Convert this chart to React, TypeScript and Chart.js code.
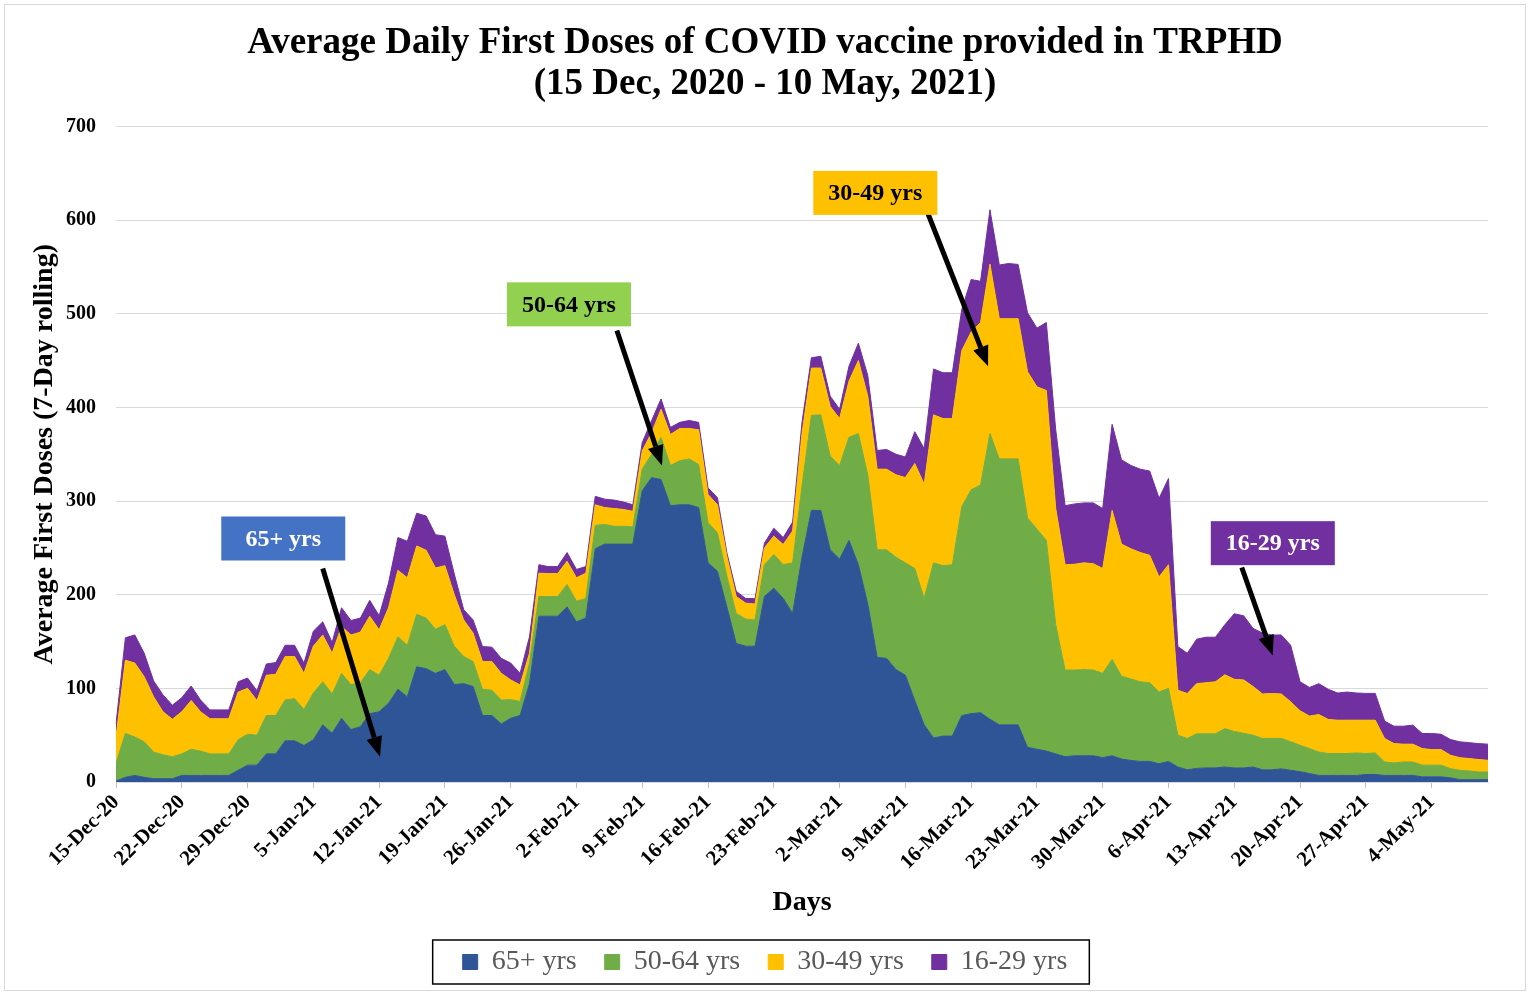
import React, { useEffect, useRef } from "react";
import { Chart, registerables } from "chart.js";

Chart.register(...registerables);

// ---------- categories ----------
const MONTHS = ["Jan", "Feb", "Mar", "Apr", "May", "Jun", "Jul", "Aug", "Sep", "Oct", "Nov", "Dec"];
const DAY_COUNT = 147; // 15-Dec-20 .. 10-May-21
const days: string[] = Array.from({ length: DAY_COUNT }, (_, i) => {
  const dt = new Date(Date.UTC(2020, 11, 15 + i));
  return `${dt.getUTCDate()}-${MONTHS[dt.getUTCMonth()]}-${String(dt.getUTCFullYear()).slice(2)}`;
});
const TICK_EVERY = 7;

// ---------- series (7-day rolling average of first doses) ----------
const age65Plus = [
  1, 5, 7, 5, 3.5, 3.5, 3.5, 7, 7, 7,
  7, 7, 7, 12.5, 18, 18, 30, 30, 44, 44,
  39, 45, 61, 52, 68, 56, 59, 73, 75, 84,
  99, 91, 123, 121, 116, 120, 104, 105, 102, 71,
  71, 62, 68, 71, 105, 177, 177, 177, 187, 171,
  175, 249, 254, 254, 254, 254, 311, 325, 323, 295,
  296, 296, 293, 234, 225, 187, 148, 145, 145, 198,
  207, 196, 180, 240, 290, 290, 248, 238, 258, 232,
  190, 133, 132, 120, 114, 87, 61, 47, 49, 49,
  71, 73, 74, 67, 61, 61, 61, 37, 35, 33,
  30, 27, 28, 28, 28, 26, 28, 24.5, 23, 22,
  22, 19.5, 22, 16, 13, 14.5, 15, 15, 16, 15,
  15, 16, 13, 13, 14, 12.5, 11, 9, 7, 7,
  7, 7, 7, 8, 8, 7, 7, 7, 7, 5.5,
  5.5, 5.5, 4.5, 2.5, 2.5, 2.5, 2.5,
];
const age50to64 = [
  19, 47, 41, 38, 28.5, 25.5, 23.5, 23, 28, 26,
  23, 23, 23, 32.5, 33, 32, 41, 41, 43.5, 45,
  38.5, 50, 46, 42, 48, 48, 47, 47, 39, 48,
  56, 55, 56, 54, 47, 48, 41, 29, 26.6, 28,
  27, 25.5, 20, 15, 22, 21, 21, 21, 24, 22,
  21, 25, 21, 19, 19, 18.5, 23, 25, 45, 43,
  47, 49, 46, 43, 41, 33, 32, 29, 28, 34,
  36, 36, 54, 76, 101.5, 102, 100, 100, 110, 140,
  138, 115, 116, 120, 120, 141, 135, 187, 182, 183,
  223, 239, 243, 305, 284, 284, 284, 245, 235, 225,
  138, 92.5, 91.5, 92, 91.5, 90, 103, 88.5, 87, 85,
  84, 76.5, 78, 34, 33.5, 37, 36.5, 36.5, 41, 39,
  37, 34, 33.5, 33.5, 32.5, 30.5, 28.3, 26.7, 25, 23.4,
  23.4, 23.4, 24, 22.4, 23, 14.4, 13.4, 14.4, 14.4, 12.5,
  12.5, 12.5, 9.8, 10, 9.3, 8.2, 8.2,
];
const age30to49 = [
  28, 78, 79, 69.5, 59, 46, 40, 45, 52, 42,
  37.5, 37.5, 37.5, 51, 49, 37, 43, 44, 46.5, 45,
  38.5, 50, 50, 43.5, 50, 53, 54, 57, 48.5, 54,
  71, 72, 73, 72.5, 65.5, 63, 55, 39, 30.4, 29.6,
  30.6, 28.5, 21, 17.6, 10.5, 25, 24.5, 24.5, 24.7, 25,
  27, 22, 18, 19, 18, 16.5, 19.6, 23, 30, 33,
  34.5, 32.5, 37, 30, 30, 21, 18, 17, 17, 18,
  19.5, 21.6, 34, 56, 50.5, 50, 53, 50, 60, 78,
  84, 86, 86, 88, 91, 112, 122, 158, 157, 156,
  166.5, 168.5, 173.6, 181, 149.6, 149.6, 149.6, 156, 152, 160,
  124, 112.5, 113, 114, 113.5, 112, 159, 141, 139, 138,
  136, 123, 132, 48, 48, 53.5, 54.5, 55.5, 57.5, 55.6,
  57, 52, 47.5, 48, 47.5, 42.7, 36.7, 34.7, 40, 36.4,
  35.6, 35.6, 35, 35.6, 35, 25, 20.6, 19, 19, 17.7,
  16.6, 16.6, 14.3, 13.5, 13.2, 13.3, 12.5,
];
const age16to29 = [
  14, 24, 30, 25, 17, 18, 15, 15, 15.5, 12.5,
  9.5, 9.5, 9.5, 11, 11, 10.5, 12, 12.5, 12, 12,
  11, 16, 14, 11.5, 20, 15.5, 15, 17, 15, 26.5,
  35, 39, 35, 36.5, 35.5, 31.5, 22, 11, 14, 16,
  15.4, 16, 18, 12.4, 17.5, 9, 7.5, 7.5, 9.3, 9,
  7, 9, 9, 9, 8, 7, 8.9, 13, 11, 7.6,
  6.5, 8.5, 8, 7, 7.6, 4, 5.6, 5, 5.7, 5,
  8.5, 7.4, 9.5, 12, 11, 12.5, 11, 10, 16, 18.5,
  22, 20, 21, 22, 22, 34, 38, 49, 49, 49,
  44, 56, 44, 58, 57.4, 59, 58, 63, 62.6, 72.6,
  84, 63, 64.4, 64, 65, 64, 92, 90, 89, 89,
  90, 84, 92, 46.6, 43, 47.5, 48.6, 47.6, 53.5, 70,
  68.5, 62, 65, 62.4, 63, 60.3, 31, 30.6, 33, 32.2,
  29, 30, 29, 28.6, 28.6, 18.6, 18.6, 19.2, 20.3, 16.1,
  17.2, 16.4, 16.8, 16.9, 17, 17, 17.2,
];

const seriesNames = ["65+ yrs", "50-64 yrs", "30-49 yrs", "16-29 yrs"];
const seriesValues = [age65Plus, age50to64, age30to49, age16to29];
const seriesColors = ["#2F5597", "#70AD47", "#FFC000", "#7030A0"];

// y axis ticks
const Y_MIN = 0;
const Y_MAX = 700;
const Y_STEP = 100;

// ---------- callouts (placed in data space: [day index, doses]) ----------
const calloutText = ["65+ yrs", "50-64 yrs", "30-49 yrs", "16-29 yrs"];
const calloutFill = ["#4472C4", "#92D050", "#FFC000", "#7030A0"];
const calloutInk = ["#FFFFFF", "#000000", "#000000", "#FFFFFF"];
const calloutBoxAt = [[17.8, 260], [48.2, 510], [80.8, 629], [123.1, 255]];
const calloutTail = [[22.0, 228], [53.3, 482], [86.4, 607], [119.8, 229]];
const calloutHead = [[28.1, 27], [58.1, 338], [92.8, 444], [123.1, 135]];

const FONT = "'Liberation Serif', 'Times New Roman', serif";

const calloutPlugin = {
  id: "callouts",
  afterDatasetsDraw(chart: any) {
    const { ctx, scales } = chart;
    const xs = scales.x;
    const ys = scales.y;
    ctx.save();
    calloutText.forEach((text, k) => {
      const tx = xs.getPixelForValue(calloutTail[k][0]);
      const ty = ys.getPixelForValue(calloutTail[k][1]);
      const hx = xs.getPixelForValue(calloutHead[k][0]);
      const hy = ys.getPixelForValue(calloutHead[k][1]);
      const ang = Math.atan2(hy - ty, hx - tx);
      const headLen = 20;
      const headHalf = 8;
      const bx = hx - Math.cos(ang) * headLen;
      const byy = hy - Math.sin(ang) * headLen;
      ctx.strokeStyle = "#000";
      ctx.lineWidth = 5;
      ctx.lineCap = "butt";
      ctx.beginPath();
      ctx.moveTo(tx, ty);
      ctx.lineTo(bx, byy);
      ctx.stroke();
      ctx.fillStyle = "#000";
      ctx.beginPath();
      ctx.moveTo(hx, hy);
      ctx.lineTo(bx + Math.sin(ang) * headHalf, byy - Math.cos(ang) * headHalf);
      ctx.lineTo(bx - Math.sin(ang) * headHalf, byy + Math.cos(ang) * headHalf);
      ctx.closePath();
      ctx.fill();

      const cx = xs.getPixelForValue(calloutBoxAt[k][0]);
      const cy = ys.getPixelForValue(calloutBoxAt[k][1]);
      const w = 124;
      const h = 44;
      ctx.fillStyle = calloutFill[k];
      ctx.fillRect(cx - w / 2, cy - h / 2, w, h);
      ctx.fillStyle = calloutInk[k];
      ctx.font = `bold 24px ${FONT}`;
      ctx.textAlign = "center";
      ctx.textBaseline = "middle";
      ctx.fillText(text, cx, cy + 1);
    });
    ctx.restore();
  },
};

const framePlugin = {
  id: "frame",
  beforeDraw(chart: any) {
    const { ctx, width, height } = chart;
    ctx.save();
    ctx.fillStyle = "#FFFFFF";
    ctx.fillRect(0, 0, width, height);
    ctx.restore();
  },
  afterDraw(chart: any) {
    const { ctx, width, height } = chart;
    ctx.save();
    ctx.strokeStyle = "#D9D9D9";
    ctx.lineWidth = 1;
    ctx.strokeRect(4.5, 4.5, width - 9, height - 6);
    // legend border
    const lg = chart.legend;
    const hb = lg && lg.legendHitBoxes;
    if (hb && hb.length) {
      const first = hb[0];
      const last = hb[hb.length - 1];
      const left = first.left - 30;
      const right = last.left + last.width + 22;
      const top = first.top - 8;
      const bottom = first.top + first.height + 8;
      ctx.strokeStyle = "#000000";
      ctx.lineWidth = 1.5;
      ctx.strokeRect(left, top, right - left, bottom - top);
    }
    ctx.restore();
  },
};

export default function App() {
  const canvasRef = useRef<HTMLCanvasElement | null>(null);

  useEffect(() => {
    const canvas = canvasRef.current;
    if (!canvas) return;
    const chart = new Chart(canvas, {
      type: "line",
      data: {
        labels: days,
        datasets: seriesNames.map((name, k) => ({
          label: name,
          data: seriesValues[k],
          backgroundColor: seriesColors[k],
          borderColor: seriesColors[k],
          borderWidth: 1,
          pointRadius: 0,
          pointHoverRadius: 0,
          tension: 0,
          fill: k === 0 ? "origin" : "-1",
        })),
      },
      options: {
        responsive: false,
        animation: false,
        devicePixelRatio: 1,
        layout: { padding: { left: 0, right: 0, top: 0, bottom: 6 } },
        plugins: {
          title: {
            display: true,
            text: [
              "Average Daily First Doses of COVID vaccine provided in TRPHD",
              "(15 Dec, 2020 - 10 May, 2021)",
            ],
            color: "#000000",
            font: { family: FONT, size: 37, weight: "bold", lineHeight: 1.1 },
            padding: { top: 23, bottom: 22 },
          },
          legend: {
            display: true,
            position: "bottom",
            labels: {
              color: "#595959",
              font: { family: FONT, size: 28 },
              boxWidth: 15,
              boxHeight: 15,
              padding: 28,
            },
          },
          tooltip: { enabled: false },
        },
        scales: {
          x: {
            type: "category",
            grid: {
              drawOnChartArea: false,
              drawTicks: true,
              tickLength: 6,
              color: (c: any) => (c.index % TICK_EVERY === 0 ? "#BFBFBF" : "rgba(0,0,0,0)"),
            },
            border: { display: true, color: "#D9D9D9" },
            ticks: {
              autoSkip: false,
              maxRotation: 45,
              minRotation: 45,
              padding: 2,
              color: "#000000",
              font: { family: FONT, size: 21, weight: "bold" },
              callback: (_v: any, i: number) => (i % TICK_EVERY === 0 ? days[i] : ""),
            },
            title: {
              display: true,
              text: "Days",
              color: "#000000",
              font: { family: FONT, size: 28, weight: "bold" },
              padding: { top: 0, bottom: 0 },
            },
            afterFit: (s: any) => {
              s.height = 138;
            },
          },
          y: {
            stacked: true,
            min: Y_MIN,
            max: Y_MAX,
            ticks: {
              stepSize: Y_STEP,
              padding: 20,
              color: "#000000",
              font: { family: FONT, size: 20, weight: "bold" },
            },
            grid: { color: "#D9D9D9", drawTicks: false, lineWidth: 1 },
            border: { display: false },
            title: {
              display: true,
              text: "Average First Doses (7-Day rolling)",
              color: "#000000",
              font: { family: FONT, size: 28, weight: "bold" },
              padding: { top: 28, bottom: 0 },
            },
            afterFit: (s: any) => {
              s.width = 116;
            },
          },
          // empty right-hand margin axis so the title and legend centre on the full canvas
          yRight: {
            position: "right",
            display: true,
            min: Y_MIN,
            max: Y_MAX,
            ticks: { display: false },
            grid: { display: false, drawTicks: false },
            border: { display: false },
            afterFit: (s: any) => {
              s.width = 42;
            },
          },
        },
      },
      plugins: [framePlugin, calloutPlugin],
    } as any);
    return () => chart.destroy();
  }, []);

  return (
    <div style={{ position: "fixed", left: 0, top: 0, width: 1530, height: 992, background: "#fff" }}>
      <canvas ref={canvasRef} width={1530} height={992} style={{ display: "block" }} />
    </div>
  );
}
